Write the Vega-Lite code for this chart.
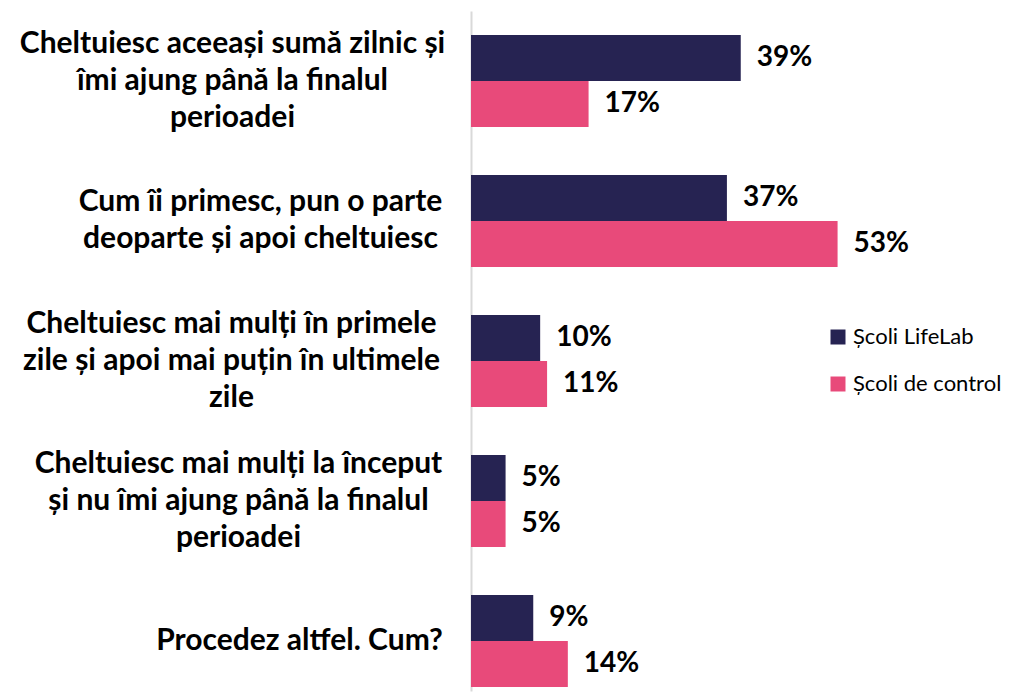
{
  "$schema": "https://vega.github.io/schema/vega-lite/v6.json",
  "autosize": "none",
  "padding": {"left": 471, "top": 11, "right": 134, "bottom": 3},
  "width": 415,
  "height": 680,
  "background": "white",
  "config": {"view": {"stroke": null}},
  "data": {"values": [
    {"cat": "Cheltuiesc aceeași sumă zilnic și|îmi ajung până la finalul|perioadei", "serie": "Școli LifeLab", "val": 0.39},
    {"cat": "Cheltuiesc aceeași sumă zilnic și|îmi ajung până la finalul|perioadei", "serie": "Școli de control", "val": 0.17},
    {"cat": "Cum îi primesc, pun o parte|deoparte și apoi cheltuiesc", "serie": "Școli LifeLab", "val": 0.37},
    {"cat": "Cum îi primesc, pun o parte|deoparte și apoi cheltuiesc", "serie": "Școli de control", "val": 0.53},
    {"cat": "Cheltuiesc mai mulți în primele|zile și apoi mai puțin în ultimele|zile", "serie": "Școli LifeLab", "val": 0.10},
    {"cat": "Cheltuiesc mai mulți în primele|zile și apoi mai puțin în ultimele|zile", "serie": "Școli de control", "val": 0.11},
    {"cat": "Cheltuiesc mai mulți la început|și nu îmi ajung până la finalul|perioadei", "serie": "Școli LifeLab", "val": 0.05},
    {"cat": "Cheltuiesc mai mulți la început|și nu îmi ajung până la finalul|perioadei", "serie": "Școli de control", "val": 0.05},
    {"cat": "Procedez altfel. Cum?", "serie": "Școli LifeLab", "val": 0.09},
    {"cat": "Procedez altfel. Cum?", "serie": "Școli de control", "val": 0.14}
  ]},
  "encoding": {
    "y": {
      "field": "cat", "type": "nominal", "sort": null,
      "scale": {"paddingInner": 0.343, "paddingOuter": 0.1, "align": 0.857},
      "axis": {
        "title": null,
        "labelExpr": "split(datum.value, '|')",
        "labelFont": "Lato", "labelFontWeight": "bold", "labelFontSize": 30,
        "labelColor": "black", "labelLineHeight": 37,
        "labelAlign": "center", "labelBaseline": "middle",
        "labelOffset": {"condition": [
          {"test": "indexof(datum.value, 'Cum îi') == 0", "value": -18.5},
          {"test": "indexof(datum.value, 'Procedez') == 0", "value": 0}
        ], "value": -37},
        "labelPadding": {"condition": [
          {"test": "indexof(datum.value, 'Cheltuiesc aceeași') == 0", "value": 239},
          {"test": "indexof(datum.value, 'Cum îi') == 0", "value": 211},
          {"test": "indexof(datum.value, 'Cheltuiesc mai mulți în') == 0", "value": 240},
          {"test": "indexof(datum.value, 'Cheltuiesc mai mulți la') == 0", "value": 233}
        ], "value": 172},
        "ticks": false, "labelLimit": 0,
        "domainColor": "#D9D9D9", "domainWidth": 2
      }
    },
    "yOffset": {"field": "serie", "type": "nominal", "sort": ["Școli LifeLab", "Școli de control"], "scale": {"paddingInner": 0, "paddingOuter": 0}},
    "x": {"field": "val", "type": "quantitative", "scale": {"domain": [0, 0.6], "nice": false}, "axis": null}
  },
  "layer": [
    {
      "mark": {"type": "bar"},
      "encoding": {
        "color": {
          "field": "serie", "type": "nominal",
          "sort": ["Școli LifeLab", "Școli de control"],
          "scale": {"domain": ["Școli LifeLab", "Școli de control"], "range": ["#262352", "#E84A7A"]},
          "legend": {
            "title": null, "orient": "none", "legendX": 356, "legendY": 315,
            "symbolType": "square", "symbolSize": 225, "symbolStrokeWidth": 0,
            "labelFont": "Lato", "labelFontSize": 22, "labelColor": "black",
            "labelOffset": 4, "rowPadding": 25, "padding": 0, "labelLimit": 0
          }
        }
      }
    },
    {
      "mark": {"type": "text", "align": "left", "baseline": "middle", "dx": 16, "font": "Lato", "fontWeight": "bold", "fontSize": 28, "color": "black"},
      "encoding": {"text": {"field": "val", "type": "quantitative", "format": ".0%"}}
    }
  ]
}
